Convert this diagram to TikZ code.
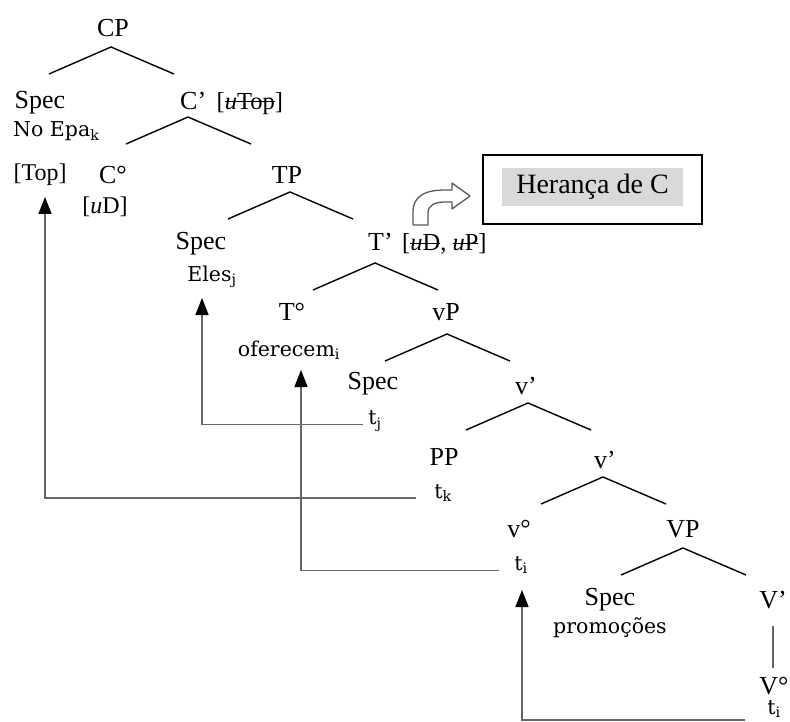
\documentclass[tikz,border=0pt]{standalone}
\usepackage{fontspec}
\setmainfont{Liberation Serif}
\newfontfamily\smallserif{DejaVu Serif}
\usetikzlibrary{arrows.meta}
\newlength{\strikewd}
\newcommand{\strike}[1]{\settowidth{\strikewd}{#1}\rlap{#1}\rule[0.27em]{\strikewd}{1.1pt}}

\begin{document}
\begin{tikzpicture}[
        x=1pt, y=-1pt,
        lab/.style={inner sep=1pt, font=\fontsize{26}{30}\selectfont},
        feat/.style={inner sep=1pt, font=\fontsize{24}{28}\selectfont},
        small/.style={inner sep=1pt, font=\smallserif\fontsize{20.5}{24}\selectfont},
        branch/.style={line width=1.4pt},
        move/.style={line width=1.4pt, draw=black!60, -{Triangle[length=17pt, width=13pt, color=black]}},
        bentarrow/.style={draw=black!65, fill=white, line width=1.3pt, line join=round}
    ]
    \useasboundingbox (0,0) rectangle (790,722);

    \node[lab] (cp) at (113,28) {CP};
    \node[lab] (spec-c) at (40,103) {Spec};
    \node[small, anchor=west] (noepa) at (12,131) {No Epa\textsubscript{k}};
    \node[lab, anchor=west] (cbar) at (179,103) {C’\hspace{4pt} \fontsize{24.5}{28}\selectfont[\strike{\textit{u}Top}]};
    \node[feat] (top) at (40,175) {[Top]};
    \node[lab] (c0) at (113,175) {C°};
    \node[feat] (ud) at (105,207) {[\textit{u}D]};
    \node[lab] (tp) at (287,175) {TP};
    \node[lab] (spec-t) at (201,244) {Spec};
    \node[small] (eles) at (212,277) {Eles\textsubscript{j}};
    \node[lab, anchor=west] (tbar) at (367,244) {T’\hspace{3pt} \fontsize{24.5}{28}\selectfont[\strike{\textit{u}D}, \strike{\textit{u}P}]};
    \node[lab] (t0) at (292,312) {T°};
    \node[small] (oferecem) at (289,350) {oferecem\textsubscript{i}};
    \node[lab] (vp) at (446,312) {vP};
    \node[lab] (spec-v) at (373,384) {Spec};
    \node[small] (tj) at (375,421) {t\textsubscript{j}};
    \node[lab] (vbar1) at (526,386) {v’};
    \node[lab] (pp) at (444,457) {PP};
    \node[small] (tk) at (443,493) {t\textsubscript{k}};
    \node[lab] (vbar2) at (605,460) {v’};
    \node[lab] (v0) at (519,529) {v°};
    \node[small] (ti) at (521,565) {t\textsubscript{i}};
    \node[lab] (bigvp) at (683,529) {VP};
    \node[lab] (spec-vv) at (610,600) {Spec};
    \node[small] (promocoes) at (610,628) {promoções};
    \node[lab] (vbar3) at (773,600) {V’};
    \node[lab] (bigv0) at (774,686) {V°};
    \node[small] (ti2) at (774,709) {t\textsubscript{i}};

    % branches
    \foreach \n/\x/\y in {cp/111/47, c/188/117, tp/290/192, t/375/263, vp/447/334, va/528/403, vb/603/477, bv/683/548}{
        \coordinate (\n-top) at (\x,\y);
        \draw[branch] (\x-62,\y+27) -- (\n-top) -- (\x+63,\y+27);
    }
    \draw[branch, draw=black!60, shorten <=16pt, shorten >=8pt] (vbar3.south) -- (vbar3.south |- bigv0.north);

    % Herança de C
    \node[draw, line width=2pt, minimum width=219pt, minimum height=69pt] (heranca) at (592.5,189.5) {};
    \node[fill=black!15, minimum width=181pt, minimum height=38pt, font=\fontsize{28}{32}\selectfont] (herancatext) at (592.5,187) {Herança de C};
    \draw[bentarrow] (413,225) -- (413,212) .. controls (413,196) and (425,190) .. (445,190)
        -- (452,190) -- (452,183) -- (470,196) -- (452,209) -- (452,202) -- (445,202)
        .. controls (435,202) and (428,205) .. (428,213) -- (428,225) -- cycle;

    % movement
    \coordinate (top-arr) at (45,197);
    \coordinate (eles-arr) at (202,298);
    \coordinate (of-arr) at (301,370);
    \coordinate (ti-arr) at (522,590);
    \draw[move, shorten <=4pt] (tj.base west) -| (eles-arr);
    \draw[move, shorten <=17pt] (tk.base west) -| (top-arr);
    \draw[move, shorten <=14pt] (ti.base west) -| (of-arr);
    \draw[move, shorten <=21pt] (ti2.base west |- 0,720) -| (ti-arr);
\end{tikzpicture}
\end{document}
